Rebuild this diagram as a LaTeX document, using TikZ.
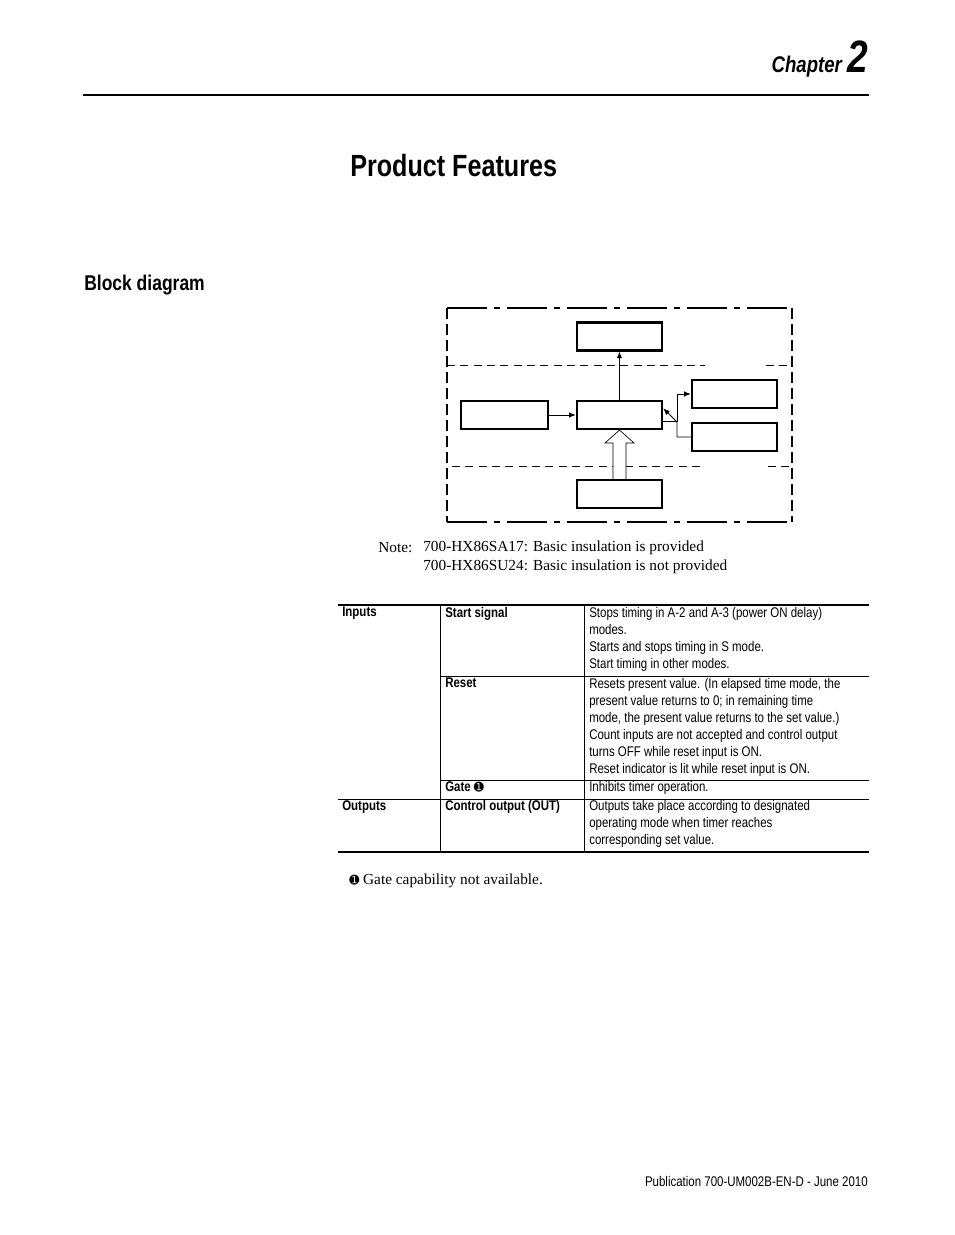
\documentclass[tikz,border=0pt]{standalone}
\usepackage{fontspec}
\setmainfont{Liberation Serif}
\newfontfamily\cond[FakeStretch=0.82]{Liberation Sans}
\newfontfamily\dv{DejaVu Sans}
\usetikzlibrary{arrows.meta}
\begin{document}
\begin{tikzpicture}[x=0.75pt,y=-0.75pt,
  blk/.style={draw,line width=1.6pt},
  sep/.style={dashed,line width=0.7pt,dash pattern=on 6pt off 4pt},
  arr/.style={line width=0.6pt,-{Latex[length=5pt,width=4pt]}},
  tl/.style={anchor=north west,inner sep=0pt,align=left,font=\cond\fontsize{10.5}{12.75}\selectfont},
  th/.style={tl,font=\cond\bfseries\fontsize{10.5}{12.75}\selectfont},
  nt/.style={anchor=west,inner sep=0pt,font=\fontsize{11.5}{14}\selectfont}]
\useasboundingbox (0,0) rectangle (954,1235);
\node[anchor=base east,inner sep=0pt,font=\cond\bfseries\itshape\fontsize{17}{20}\selectfont] (chap) at (868,72) {Chapter \fontsize{34}{36}\selectfont 2};
\draw[line width=2.2pt] (83,95) -- (869,95);
\node[anchor=base west,inner sep=0pt,font=\cond\bfseries\fontsize{23}{26}\selectfont] (title) at (350,176) {Product Features};
\node[anchor=base west,inner sep=0pt,font=\cond\bfseries\fontsize{16}{19}\selectfont] (bd) at (84,290) {Block diagram};
% frame
\draw[line width=1.6pt,dash pattern=on 30pt off 5pt on 5pt off 5pt] (447,308) -- (792,308);
\draw[line width=1.6pt,dash pattern=on 30pt off 5pt on 5pt off 5pt] (447,522) -- (792,522);
\draw[line width=1.4pt,dash pattern=on 8pt off 4pt] (447,308) -- (447,522);
\draw[line width=1.4pt,dash pattern=on 8pt off 4pt] (792,308) -- (792,522);
\draw[sep] (447,365) -- (705,365); \draw[sep] (766,365) -- (792,365);
\draw[sep] (452,466) -- (700,466); \draw[sep] (768,466) -- (792,466);
\node[blk,minimum width=64pt,minimum height=21pt] (top) at (619.5,336.5) {};
\node[blk,minimum width=64pt,minimum height=21pt] (mid) at (619.5,415) {};
\node[blk,minimum width=65pt,minimum height=21pt] (left) at (504.5,415) {};
\node[blk,minimum width=64pt,minimum height=21pt] (ru) at (734.5,394) {};
\node[blk,minimum width=64pt,minimum height=21pt] (rl) at (734.5,437) {};
\node[blk,minimum width=64pt,minimum height=21pt] (bot) at (619.5,494) {};
\draw[arr] (mid.north) -- (top.south);
\draw[arr] (left.east) -- (mid.west);
\draw[arr] ([yshift=-5pt]mid.east) -| (677,394) -- (ru.west);
\draw[arr] (rl.west) -| (677,422) -- ([yshift=5pt]mid.east);
\draw[line width=0.5pt,fill=white] (bot.north -| 613,0) -- (613,443) -- (605,443) -- (mid.south) -- (634,443) -- (626,443) -- (bot.north -| 626,0);
% note
\node[nt] (n0) at (378,548) {Note:};
\node[nt] (n1) at (423,548) {700-HX86SA17: Basic insulation is provided};
\node[nt] (n2) at (423,567) {700-HX86SU24: Basic insulation is not provided};
% table
\draw[line width=1.6pt] (338,605) -- (869,605);
\draw[line width=1.6pt] (338,852) -- (869,852);
\draw[line width=0.5pt] (440,605) -- (440,852) (584,605) -- (584,852)
  (440,676) -- (869,676) (440,780) -- (869,780) (338,799) -- (869,799);
\node[th] (c1) at (342,607) {Inputs};
\node[th] (c2) at (445,607) {Start signal};
\node[tl] (c3) at (589,607) {Stops timing in A-2 and A-3 (power ON delay)\\modes.\\Starts and stops timing in S mode.\\Start timing in other modes.};
\node[th] (c4) at (445,678) {Reset};
\node[tl] (c5) at (589,678) {Resets present value. (In elapsed time mode, the\\present value returns to 0; in remaining time\\mode, the present value returns to the set value.)\\Count inputs are not accepted and control output\\turns OFF while reset input is ON.\\Reset indicator is lit while reset input is ON.};
\node[th] (c6) at (445,781) {Gate {\dv\mdseries\fontsize{9}{10}\selectfont ➊}};
\node[tl] (c7) at (589,781) {Inhibits timer operation.};
\node[th] (c8) at (342,800) {Outputs};
\node[th] (c9) at (445,800) {Control output (OUT)};
\node[tl] (c10) at (589,800) {Outputs take place according to designated\\operating mode when timer reaches\\corresponding set value.};
\node[nt] (fn) at (349,881) {{\dv\fontsize{9}{10}\selectfont ➊} Gate capability not available.};
\node[anchor=base east,inner sep=0pt,font=\cond\fontsize{10.5}{12}\selectfont] (pub) at (868,1186) {Publication 700-UM002B-EN-D - June 2010};
\end{tikzpicture}
\end{document}
